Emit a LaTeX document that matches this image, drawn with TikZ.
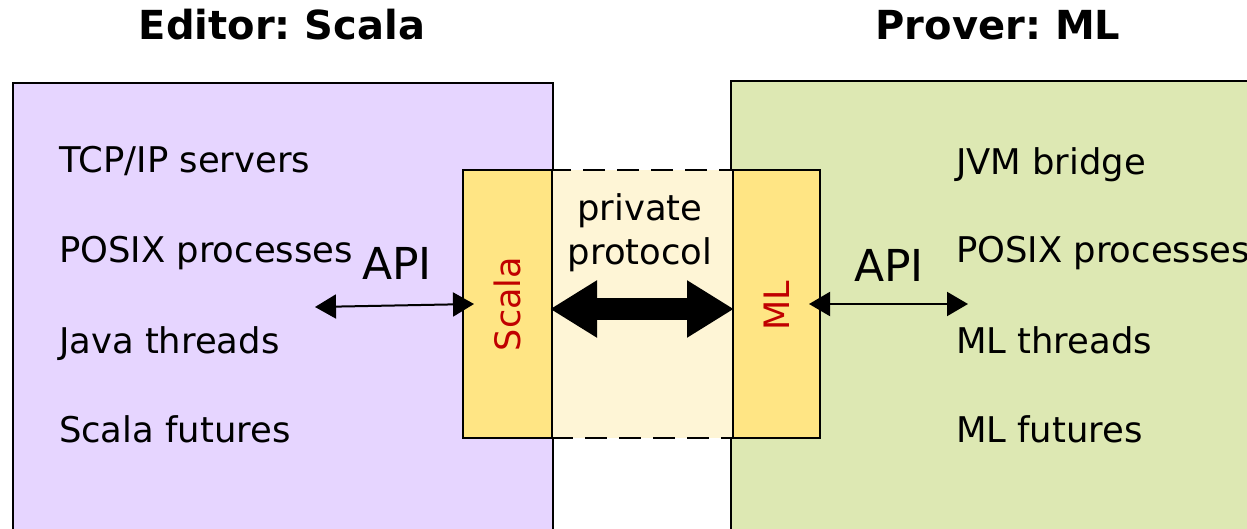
\documentclass[tikz,border=0pt]{standalone}
\usepackage{fontspec}
\setmainfont{DejaVu Sans}
\usetikzlibrary{positioning,arrows.meta}
\frenchspacing

\definecolor{editorbg}{HTML}{E6D5FF}
\definecolor{proverbg}{HTML}{DDE8B3}
\definecolor{protobg}{HTML}{FEF5D6}
\definecolor{layerbg}{HTML}{FFE584}
\definecolor{layertext}{HTML}{C00000}

\begin{document}
\begin{tikzpicture}[x=0.5pt, y=-0.5pt, line width=1pt,
    title/.style={anchor=base, font=\fontsize{20}{24}\selectfont\bfseries, inner sep=0pt},
    item/.style={anchor=base west, font=\fontsize{17.7}{21}\selectfont, inner sep=0pt},
    apilabel/.style={anchor=base, font=\fontsize{22}{26}\selectfont, inner sep=0pt},
    layer/.style={draw, fill=layerbg, minimum height=134pt, inner sep=0pt},
    layername/.style={rotate=90, text=layertext, font=\fontsize{17.5}{21}\selectfont, inner sep=0pt},
    apiarrow/.style={{Triangle[length=10.5pt,width=12pt]}-{Triangle[length=10.5pt,width=12pt]}, line width=1pt}
]
    \clip (0,0) rectangle (1247,529);

    % Two sides
    \draw[fill=editorbg] (13,83) rectangle (553,600);
    \draw[fill=proverbg] (731,81) rectangle (1300,600);

    \node (edtitle) [title] at (282,40) {Editor: Scala};
    \node (prtitle) [title] at (998,40) {Prover: ML};

    % Editor side
    \node (tcp)   [item] at (58,173) {TCP/IP servers};
    \node (posL)  [item] at (58,263) {POSIX processes};
    \node (java)  [item] at (58,353) {Java threads};
    \node (futL)  [item] at (58,442) {Scala futures};

    % Prover side
    \node (jvm)   [item] at (955,175) {JVM bridge};
    \node (posR)  [item] at (955,263) {POSIX processes};
    \node (mlthr) [item] at (955,353) {ML threads};
    \node (futR)  [item] at (955,442) {ML futures};

    % Protocol channel between the two layers
    \node (proto) [draw, dashed, dash pattern=on 11pt off 6pt, fill=protobg,
                   minimum width=91pt, minimum height=134pt, inner sep=0pt] at (642,304) {};
    \node (scala) [layer, minimum width=44.5pt] at (507.5,304) {};
    \node (ml)    [layer, minimum width=43.5pt] at (776.5,304) {};
    \node [layername] at (scala.center) {Scala};
    \node [layername] at ([yshift=-1pt]ml.center) {ML};

    \node (priv) [align=center, font=\fontsize{17.7}{22}\selectfont, inner sep=0pt] at (640,233) {private\\protocol};

    \draw[line width=11pt, {Triangle[length=23.5pt,width=27pt]}-{Triangle[length=23.5pt,width=27pt]}]
        ([yshift=-2.5pt]proto.west) -- ([yshift=-2.5pt]proto.east);

    % API connections
    \coordinate (apiL) at (315,307);
    \coordinate (apiR) at (968,304);
    \node (apiLlbl) [apilabel] at (397,279) {API};
    \node (apiRlbl) [apilabel] at (889,281) {API};
    \draw[apiarrow] (apiL) -- ([xshift=6pt]scala.west);
    \draw[apiarrow] ([xshift=-6pt]ml.east) -- (apiR);
\end{tikzpicture}
\end{document}
